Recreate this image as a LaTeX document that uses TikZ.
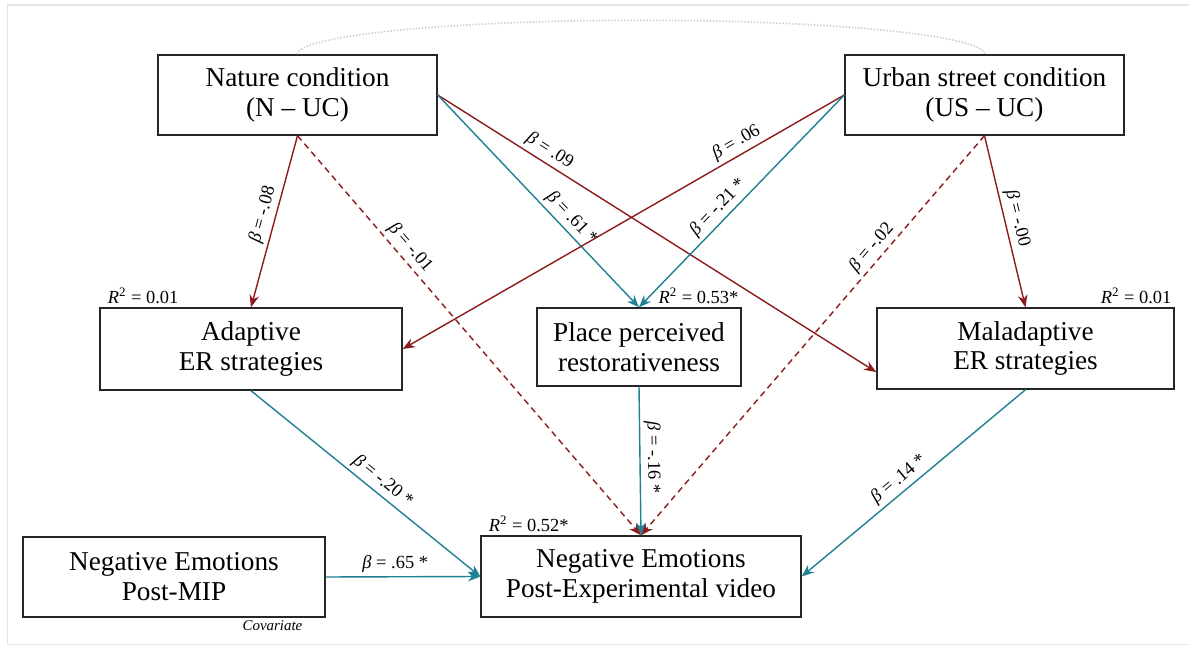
\documentclass[tikz,border=0pt]{standalone}
\usepackage{fontspec}
\setmainfont{Liberation Serif}
\usepackage{xcolor}
\usetikzlibrary{arrows.meta}
\definecolor{pathred}{RGB}{140,28,28}
\definecolor{pathteal}{RGB}{32,128,148}
\definecolor{framegray}{RGB}{228,228,228}
\definecolor{arcgray}{RGB}{205,205,205}

\begin{document}
\begin{tikzpicture}[->,>={Stealth[length=7pt,width=5.5pt]},thick,
    var node/.style={draw=black!85,thick,align=center,inner sep=2pt,font=\fontsize{15.5}{17}\selectfont},
    coef/.style={sloped,above,inner sep=2pt,font=\fontsize{10.5}{12}\selectfont},
    rsq/.style={inner sep=1.5pt,font=\fontsize{10.5}{12}\selectfont},
    red path/.style={draw=pathred},
    teal path/.style={draw=pathteal},
    dash path/.style={draw=pathred,dash pattern=on 3.5pt off 2.5pt}]
    \useasboundingbox (0,0) rectangle (23.78,12.96);
    \draw[-,framegray,semithick] (23.78,12.86) -- (0.15,12.86) -- (0.15,0.07) -- (23.78,0.07);

    \node[var node,minimum width=5.58cm,minimum height=1.6cm] (nat) at (5.95,11.06) {Nature condition\\(N -- UC)};
    \node[var node,minimum width=5.58cm,minimum height=1.6cm] (urb) at (19.69,11.06) {Urban street condition\\(US -- UC)};
    \node[var node,minimum width=6.04cm,minimum height=1.64cm] (ada) at (5.02,5.98) {Adaptive\\ER strategies};
    \node[var node,minimum width=4.08cm,minimum height=1.56cm] (pla) at (12.78,6.02) {Place perceived\\restorativeness};
    \node[var node,minimum width=5.94cm,minimum height=1.62cm] (mal) at (20.51,5.99) {Maladaptive\\ER strategies};
    \node[var node,minimum width=6.4cm,minimum height=1.62cm] (post) at (12.82,1.43) {Negative Emotions\\Post-Experimental video};
    \node[var node,minimum width=6.04cm,minimum height=1.6cm] (mip) at (3.48,1.42) {Negative Emotions\\Post-MIP};

    \node[rsq,anchor=south west,xshift=3pt] at (ada.north west) {\textit{R}\textsuperscript{2} = 0.01};
    \node[rsq,anchor=south east] at (pla.north east) {\textit{R}\textsuperscript{2} = 0.53*};
    \node[rsq,anchor=south east] at (mal.north east) {\textit{R}\textsuperscript{2} = 0.01};
    \node[rsq,anchor=south west,xshift=3pt] at (post.north west) {\textit{R}\textsuperscript{2} = 0.52*};
    \node[rsq,anchor=north east,xshift=-0.4cm,font=\fontsize{8.5}{10}\selectfont\itshape] at (mip.south east) {Covariate};

    \draw[-,arcgray,line width=0.9pt,dash pattern=on 0.8pt off 1pt] (nat.north) arc[start angle=180,end angle=0,x radius=6.87cm,y radius=0.68cm];

    \path
        (nat.south) edge[red path] node[coef,pos=.48] {\textit{β} = -.08} (ada.north)
        (nat.south) edge[dash path] node[coef,pos=.3] {\textit{β} = -.01} (post.north)
        (nat.east) edge[red path] node[coef,pos=.24] {\textit{β} = .09} (mal.189)
        (nat.east) edge[teal path] node[coef,pos=.62] {\textit{β} = .61 *} (pla.north)
        (urb.west) edge[red path] node[coef,pos=.23] {\textit{β} = .06} (ada.east)
        (urb.west) edge[teal path] node[coef,pos=.57] {\textit{β} = -.21 *} (pla.north)
        (urb.south) edge[dash path] node[coef,pos=.3] {\textit{β} = -.02} (post.north)
        (urb.south) edge[red path] node[coef,pos=.5] {\textit{β} = -.00} (mal.north)
        (ada.south) edge[teal path] node[coef,pos=.54] {\textit{β} = -.20 *} (post.west)
        (pla.south) edge[teal path] node[coef,pos=.48] {\textit{β} = -.16 *} (post.north)
        (mal.south) edge[teal path] node[coef,pos=.53] {\textit{β} = .14 *} (post.east)
        (mip.east) edge[teal path] node[coef,pos=.45] {\textit{β} = .65 *} (post.west)
        ;
\end{tikzpicture}
\end{document}
